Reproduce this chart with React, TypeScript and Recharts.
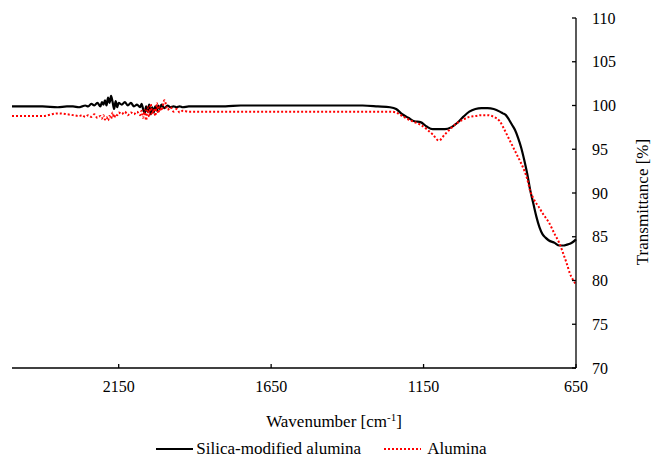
import React from "react";
import { LineChart, Line, XAxis, YAxis, Legend, Label } from "recharts";

const FONT = "'Liberation Serif', 'Times New Roman', serif";

// wavenumber in cm-1 (high to low)
const wavenumbers = [
  2500, 2450, 2400, 2350, 2320, 2300, 2280, 2270, 2260, 2250,
  2240, 2230, 2220, 2210, 2205, 2200, 2195, 2190, 2185, 2180,
  2175, 2170, 2165, 2160, 2155, 2150, 2140, 2130, 2120, 2110,
  2100, 2090, 2080, 2075, 2070, 2065, 2060, 2055, 2050, 2045,
  2040, 2035, 2030, 2025, 2020, 2015, 2010, 2000, 1990, 1980,
  1970, 1960, 1950, 1940, 1920, 1900, 1850, 1800, 1750, 1700,
  1650, 1600, 1550, 1500, 1450, 1400, 1350, 1300, 1260, 1240,
  1220, 1200, 1180, 1160, 1140, 1120, 1100, 1080, 1060, 1040,
  1020, 1000, 980, 960, 940, 920, 900, 890, 880, 870,
  860, 850, 840, 830, 820, 810, 800, 790, 780, 770,
  760, 750, 740, 720, 705, 690, 680, 670, 660, 650,
];

const silicaModified = [
  99.9, 99.9, 99.9, 99.8, 99.9, 99.9, 99.8, 99.9, 100.0, 99.9,
  100.2, 100.0, 100.3, 99.9, 100.4, 100.1, 100.6, 100.0, 100.9, 100.3,
  101.1, 100.4, 99.6, 100.5, 99.8, 100.3, 100.1, 100.4, 100.0, 100.3,
  99.9, 100.1, 99.8, 100.2, 99.6, 99.1, 99.9, 99.3, 100.1, 99.0,
  99.8, 99.2, 99.9, 99.4, 100.0, 99.6, 100.1, 99.7, 100.0, 99.8,
  99.9, 99.8, 99.9, 99.8, 99.9, 99.9, 99.9, 99.9, 100.0, 100.0,
  100.0, 100.0, 100.0, 100.0, 100.0, 100.0, 100.0, 99.9, 99.8, 99.6,
  99.0, 98.6, 98.2, 98.1, 97.6, 97.3, 97.3, 97.3, 97.5, 98.0,
  98.7, 99.3, 99.6, 99.7, 99.7, 99.6, 99.3, 99.1, 98.9, 98.4,
  97.8, 97.2, 96.3, 95.2, 93.8, 92.2, 90.3, 88.8, 87.3, 86.1,
  85.3, 84.9, 84.6, 84.3, 84.0, 84.0, 84.1, 84.2, 84.4, 84.7,
];

const alumina = [
  98.8, 98.8, 98.8, 99.1, 99.0, 98.9, 98.8, 98.9, 98.7, 98.9,
  98.7, 99.0, 98.6, 98.8, 98.5, 98.9, 98.4, 98.7, 98.3, 98.8,
  98.5, 99.2, 98.6, 99.0, 98.9, 99.2, 99.0, 99.3, 98.9, 99.2,
  99.0, 99.3, 98.9, 99.4, 98.6, 99.5, 98.3, 99.8, 98.7, 100.2,
  99.0, 99.6, 98.8, 100.3, 99.1, 99.9, 99.4, 100.6, 99.5, 99.8,
  99.3, 99.6, 99.2, 99.4, 99.3, 99.3, 99.3, 99.3, 99.3, 99.3,
  99.3, 99.3, 99.3, 99.3, 99.3, 99.3, 99.3, 99.3, 99.3, 99.2,
  98.8, 98.4, 98.1, 97.8, 97.3, 96.7, 96.0, 96.7, 97.4, 98.0,
  98.4, 98.7, 98.8, 98.9, 98.9, 98.7, 98.2, 97.6, 96.9, 96.2,
  95.5, 94.8, 94.1, 93.4, 92.6, 91.6, 90.2, 89.4, 88.8, 88.3,
  87.7, 87.2, 86.7, 85.3, 84.3, 82.9, 81.9, 80.8, 80.1, 79.5,
];

const xTicks = [2150, 1650, 1150, 650];
const yTicks = [70, 75, 80, 85, 90, 95, 100, 105, 110];

const data = wavenumbers.map((w, i) => ({
  w,
  silica: silicaModified[i],
  alumina: alumina[i],
}));

const series = [
  { key: "silica", name: "Silica-modified alumina", color: "#000000", width: 2.2, dash: undefined as string | undefined, gap: 3 },
  { key: "alumina", name: "Alumina", color: "#FF0000", width: 2, dash: "2 2", gap: 6 },
];

function LegendContent() {
  return (
    <div style={{ display: "flex", justifyContent: "center", paddingRight: 8, fontFamily: FONT, fontSize: 17, color: "#000" }}>
      {series.map((s, i) => (
        <div key={s.key} style={{ display: "flex", alignItems: "center", marginLeft: i ? 23 : 0 }}>
          <svg width={37} height={10} style={{ marginRight: s.gap }}>
            <line x1={0} y1={5} x2={37} y2={5} stroke={s.color} strokeWidth={s.width} strokeDasharray={s.dash} />
          </svg>
          <span>{s.name}</span>
        </div>
      ))}
    </div>
  );
}

export default function App() {
  return (
    <div style={{ position: "absolute", left: 0, top: 0, width: 651, height: 457, background: "#fff" }}>
      <LineChart width={651} height={457} data={data} margin={{ top: 18, right: 15, bottom: 59, left: 12 }} style={{ fontFamily: FONT }}>
        <XAxis
          dataKey="w"
          type="number"
          domain={[650, 2500]}
          reversed
          ticks={xTicks}
          height={30}
          tickSize={-4}
          tickMargin={17}
          axisLine={{ stroke: "#000", strokeWidth: 1.3 }}
          tickLine={{ stroke: "#000", strokeWidth: 1.3 }}
          tick={{ fill: "#000", fontSize: 16, fontFamily: FONT }}
        >
          <Label
            content={({ viewBox }: any) => (
              <text
                x={viewBox.x + viewBox.width / 2 + 40}
                y={viewBox.y + 59}
                textAnchor="middle"
                fill="#000"
                fontSize={17}
                fontFamily={FONT}
              >
                Wavenumber [cm
                <tspan dy={-6} fontSize={11}>-1</tspan>
                <tspan dy={6}>]</tspan>
              </text>
            )}
          />
        </XAxis>
        <YAxis
          orientation="right"
          domain={[70, 110]}
          ticks={yTicks}
          width={60}
          tickSize={-4}
          tickMargin={20}
          axisLine={{ stroke: "#000", strokeWidth: 1.3 }}
          tickLine={{ stroke: "#000", strokeWidth: 1.3 }}
          tick={{ fill: "#000", fontSize: 16, fontFamily: FONT }}
        >
          <Label
            content={({ viewBox }: any) => {
              const cx = viewBox.x + 66;
              const cy = viewBox.y + viewBox.height / 2 + 9;
              return (
                <text
                  x={cx}
                  y={cy}
                  transform={`rotate(-90 ${cx} ${cy})`}
                  textAnchor="middle"
                  dominantBaseline="central"
                  fill="#000"
                  fontSize={17}
                  fontFamily={FONT}
                >
                  Transmittance [%]
                </text>
              );
            }}
          />
        </YAxis>
        <Legend
          verticalAlign="middle"
          align="center"
          content={<LegendContent />}
          wrapperStyle={{ top: 439, left: 0, width: 651 }}
        />
        <Line
          type="monotone"
          dataKey="silica"
          name="Silica-modified alumina"
          stroke="#000000"
          strokeWidth={2.2}
          dot={false}
          isAnimationActive={false}
        />
        <Line
          type="monotone"
          dataKey="alumina"
          name="Alumina"
          stroke="#FF0000"
          strokeWidth={2}
          strokeDasharray="2 2"
          dot={false}
          isAnimationActive={false}
        />
      </LineChart>
    </div>
  );
}
